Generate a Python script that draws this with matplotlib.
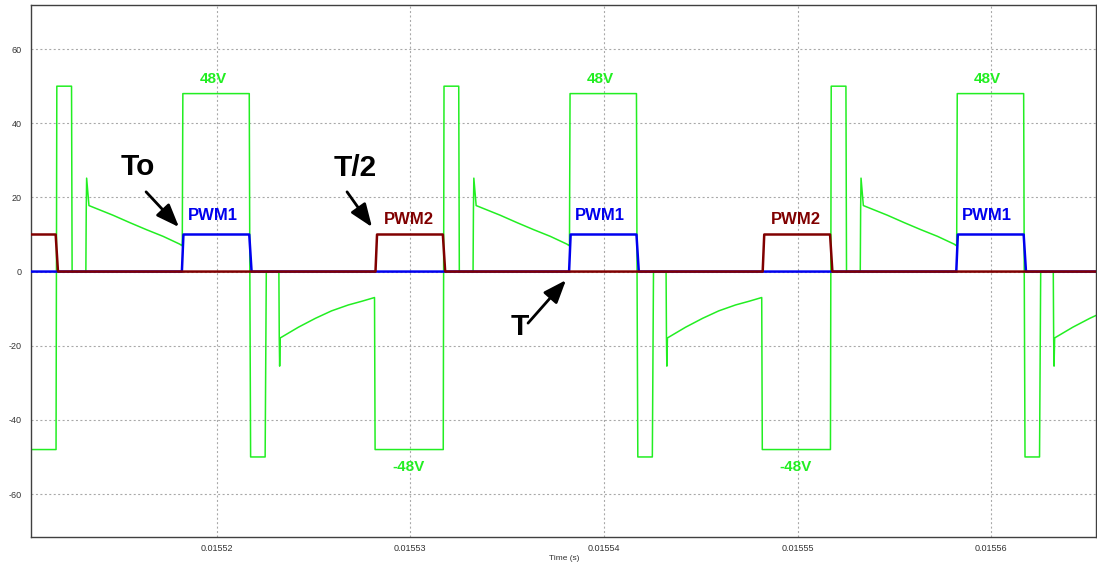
import matplotlib.pyplot as plt
import numpy as np

plt.rcParams['font.family'] = ['Liberation Sans', 'DejaVu Sans']
plt.rcParams['axes.unicode_minus'] = False

# centre of every PWM1 pulse (us); the pattern repeats every 20 us
centres_us = [15500, 15520, 15540, 15560, 15580]

# one switching period of each trace, time in us from the PWM1 centre
pwm1_t_us = [-1.80, -1.72, 1.68, 1.80]
pwm1_v = [0, 10, 10, 0]

pwm2_t_us = [8.20, 8.28, 11.68, 11.80]
pwm2_v = [0, 10, 10, 0]

vout_t_us = [-1.78, -1.75, 1.68, 1.71, 1.75, 2.50, 2.53, 2.56,
             3.21, 3.23, 3.25, 3.28, 4.22, 5.10, 5.93, 6.80, 7.50, 8.15,
             8.18, 11.70, 11.74, 12.50, 12.53,
             13.24, 13.26, 13.28, 13.40, 14.64, 15.51, 16.37, 17.23, 18.09, 18.20]
vout_v = [7.0, 48.0, 48.0, 0.0, -50.0, -50.0, -25.0, 0.0,
          0.0, -18.0, -25.5, -17.9, -15.0, -12.6, -10.6, -9.0, -8.0, -7.0,
          -48.0, -48.0, 50.0, 50.0, 0.0,
          0.0, 17.0, 25.2, 17.8, 15.2, 13.2, 11.3, 9.5, 7.4, 7.0]

xticks = [0.01552, 0.01553, 0.01554, 0.01555, 0.01556]
yticks = [-60, -40, -20, 0, 20, 40, 60]

GREEN = '#22ee22'
BLUE = '#0000ee'
BROWN = '#800000'


def repeat(t_rel, v):
    t = np.concatenate([(c + np.asarray(t_rel)) * 1e-6 for c in centres_us])
    return t, np.tile(v, len(centres_us))


fig = plt.figure(figsize=(10.97, 5.66), dpi=100)
ax = fig.add_axes([0.0285, 0.0518, 0.971, 0.9394])

t, v = repeat(vout_t_us, vout_v)
ax.plot(t, v, color=GREEN, lw=1.1, zorder=2)
t, v = repeat(pwm1_t_us, pwm1_v)
ax.plot(t, v, color=BLUE, lw=1.8, zorder=3)
t, v = repeat(pwm2_t_us, pwm2_v)
ax.plot(t, v, color=BROWN, lw=1.8, zorder=4)

ax.set_xlim(15510.42e-6, 15565.44e-6)
ax.set_ylim(-71.5, 71.9)
ax.set_xticks(xticks)
ax.set_xticklabels(['%.5f' % x for x in xticks])
ax.set_yticks(yticks)
ax.tick_params(length=0, labelsize=6.5, colors='#333333')
ax.tick_params(axis='y', pad=7)
ax.tick_params(axis='x', pad=5)
ax.grid(True, color='#a8a8a8', lw=0.8, linestyle=(0, (1.8, 2.2)))
ax.set_axisbelow(True)
for s in ax.spines.values():
    s.set_color('#404040')
    s.set_linewidth(1.0)
ax.set_xlabel('Time (s)', fontsize=6, color='#333333', labelpad=2)

# voltage and gate labels
for c in [15520, 15540, 15560]:
    ax.text((c - 0.2) * 1e-6, 15.0, 'PWM1', color=BLUE, fontsize=12,
            fontweight='bold', ha='center', va='center')
    ax.text((c - 0.2) * 1e-6, 52.0, '48V', color=GREEN, fontsize=11,
            fontweight='bold', ha='center', va='center')
for c in [15530, 15550]:
    ax.text((c - 0.1) * 1e-6, 14.0, 'PWM2', color=BROWN, fontsize=12,
            fontweight='bold', ha='center', va='center')
    ax.text((c - 0.1) * 1e-6, -52.6, '-48V', color=GREEN, fontsize=11,
            fontweight='bold', ha='center', va='center')

# timing markers
arrow = dict(arrowstyle='-|>,head_length=0.7,head_width=0.27', lw=2,
             color='black', shrinkA=0, shrinkB=0, mutation_scale=20)
marks = [('To', (15515.94, 28.2), (15516.35, 21.5), (15518.05, 12.0)),
         ('T/2', (15527.14, 28.0), (15526.73, 21.5), (15528.02, 12.0)),
         ('T', (15535.67, -14.9), (15536.08, -13.9), (15538.04, -2.3))]
for label, pos, tail, tip in marks:
    ax.text(pos[0] * 1e-6, pos[1], label, fontsize=21.5, fontweight='bold',
            ha='center', va='center', color='black', zorder=6)
    ax.annotate('', xy=(tip[0] * 1e-6, tip[1]),
                xytext=(tail[0] * 1e-6, tail[1]),
                arrowprops=arrow, zorder=6)

fig.savefig('out.png', dpi=100)
